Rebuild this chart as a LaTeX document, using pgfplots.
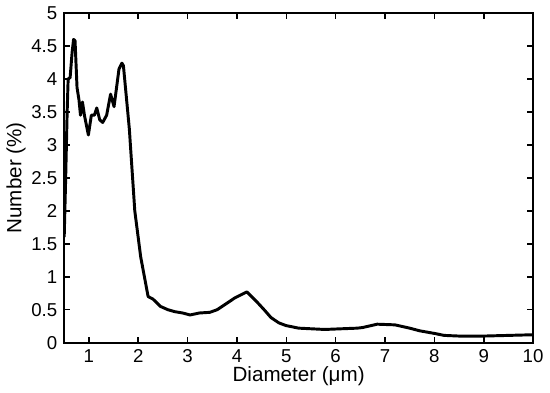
\documentclass[border=0pt]{standalone}
\usepackage{fontspec}
\setmainfont{Liberation Sans}
\usepackage{pgfplots}
\pgfplotsset{compat=1.18}

\begin{document}
\begin{tikzpicture}
\begin{axis}[
	width=239pt, height=168pt,
	scale only axis,
	xmin=0.5, xmax=10, ymin=0, ymax=5,
	xtick={1,2,...,10},
	ytick={0,0.5,...,5},
	yticklabel style={/pgf/number format/fixed},
	/pgf/number format/assume math mode=true,
	tick align=inside,
	major tick length=3pt,
	axis line style={line width=1pt},
	every tick/.style={line width=0.8pt, black},
	tick label style={font=\fontsize{9.5}{10}\selectfont},
	label style={font=\fontsize{10.5}{12}\selectfont},
	xlabel={Diameter (μm)},
	ylabel={Number (\%)},
	xlabel style={yshift=5pt},
	ylabel style={yshift=-4pt},
]
\addplot[black, line width=1.5pt, line join=round] coordinates {
(0.5,1.6) (0.53,2.5) (0.56,3.5) (0.58,4.0) (0.62,4.02) (0.66,4.4) (0.69,4.6) (0.72,4.58)
(0.76,3.87) (0.80,3.68) (0.83,3.45) (0.87,3.65) (0.91,3.45) (0.99,3.15) (1.05,3.45)
(1.11,3.45) (1.16,3.56) (1.22,3.38) (1.28,3.34) (1.36,3.45) (1.44,3.77) (1.51,3.58)
(1.61,4.15) (1.67,4.24) (1.70,4.2) (1.82,3.24) (1.93,2.0) (2.05,1.3) (2.2,0.7)
(2.3,0.66) (2.45,0.55) (2.6,0.5) (2.74,0.47) (2.9,0.45) (3.05,0.42) (3.24,0.45)
(3.45,0.46) (3.6,0.5) (3.8,0.6) (3.96,0.68) (4.2,0.77) (4.39,0.63) (4.55,0.5)
(4.69,0.38) (4.85,0.3) (4.99,0.26) (5.25,0.22) (5.78,0.2) (6.1,0.21) (6.44,0.22)
(6.55,0.23) (6.84,0.28) (7.2,0.27) (7.5,0.22) (7.7,0.18) (8.0,0.14) (8.2,0.11)
(8.5,0.1) (9.0,0.1) (9.5,0.11) (10,0.12)
};
\end{axis}
\end{tikzpicture}
\end{document}
